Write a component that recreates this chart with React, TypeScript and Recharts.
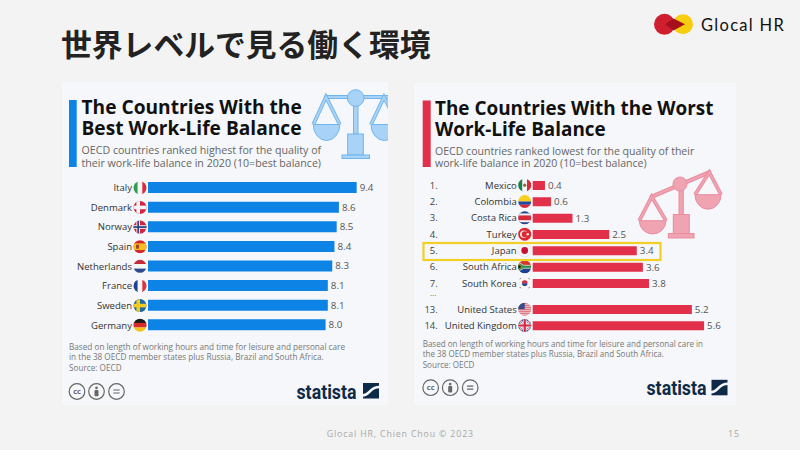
import { BarChart, Bar, XAxis, YAxis, LabelList } from "recharts";

const bestCountries = ["Italy", "Denmark", "Norway", "Spain", "Netherlands", "France", "Sweden", "Germany"];
const bestValues = [9.4, 8.6, 8.5, 8.4, 8.3, 8.1, 8.1, 8.0];

const worstCountries = ["Mexico", "Colombia", "Costa Rica", "Turkey", "Japan", "South Africa", "South Korea"];
const worstValues = [0.4, 0.6, 1.3, 2.5, 3.4, 3.6, 3.8];
const worstRanks = ["1.", "2.", "3.", "4.", "5.", "6.", "7."];

const lowerCountries = ["United States", "United Kingdom"];
const lowerValues = [5.2, 5.6];
const lowerRanks = ["13.", "14."];

const rankByCountry: Record<string, string> = {};
worstCountries.forEach((c, i) => (rankByCountry[c] = worstRanks[i]));
lowerCountries.forEach((c, i) => (rankByCountry[c] = lowerRanks[i]));

const toRows = (countries: string[], values: number[]) =>
  countries.map((country, i) => ({ country, value: values[i] }));

const UI_FONT = "'Open Sans', sans-serif";
const BLUE = "#0d83e6";
const RED = "#e2304a";

const FlagArt = ({ country }: { country: string }) => {
  const v = (a: string, b: string, c: string) => (
    <>
      <rect x={-7} y={-7} width={4.8} height={14} fill={a} />
      <rect x={-2.3} y={-7} width={4.6} height={14} fill={b} />
      <rect x={2.3} y={-7} width={4.8} height={14} fill={c} />
    </>
  );
  const h = (a: string, b: string, c: string) => (
    <>
      <rect x={-7} y={-7} width={14} height={4.8} fill={a} />
      <rect x={-7} y={-2.3} width={14} height={4.6} fill={b} />
      <rect x={-7} y={2.3} width={14} height={4.8} fill={c} />
    </>
  );
  const cross = (bg: string, c: string, inner?: string) => (
    <>
      <rect x={-7} y={-7} width={14} height={14} fill={bg} />
      <rect x={-3.6} y={-7} width={3.6} height={14} fill={c} />
      <rect x={-7} y={-1.8} width={14} height={3.6} fill={c} />
      {inner && <rect x={-2.7} y={-7} width={1.8} height={14} fill={inner} />}
      {inner && <rect x={-7} y={-0.9} width={14} height={1.8} fill={inner} />}
    </>
  );
  switch (country) {
    case "Italy":
      return v("#2e9e4f", "#f5f5f5", "#d92b3a");
    case "Denmark":
      return cross("#d32543", "#f5f5f5");
    case "Norway":
      return cross("#d32543", "#f5f5f5", "#2b4a86");
    case "Spain":
      return (
        <>
          <rect x={-7} y={-7} width={14} height={14} fill="#d8262e" />
          <rect x={-7} y={-3.3} width={14} height={6.6} fill="#f5bf1d" />
          <rect x={-4} y={-2} width={3} height={4} fill="#a8432a" />
        </>
      );
    case "Netherlands":
      return h("#c8283c", "#f5f5f5", "#2d4a8c");
    case "France":
      return v("#1f3f94", "#f5f5f5", "#e0323f");
    case "Sweden":
      return cross("#1f6aa5", "#f5c91e");
    case "Germany":
      return h("#1a1a1a", "#d92b2b", "#f5c21b");
    case "Mexico":
      return (
        <>
          {v("#1f7d4e", "#f5f5f5", "#d92b3a")}
          <circle r={1.6} fill="#8a6a3a" />
        </>
      );
    case "Colombia":
      return (
        <>
          <rect x={-7} y={-7} width={14} height={7} fill="#f7cf1d" />
          <rect x={-7} y={0} width={14} height={3.3} fill="#23489c" />
          <rect x={-7} y={3.3} width={14} height={3.7} fill="#d8283c" />
        </>
      );
    case "Costa Rica":
      return (
        <>
          <rect x={-7} y={-7} width={14} height={14} fill="#23438c" />
          <rect x={-7} y={-4.4} width={14} height={8.8} fill="#f5f5f5" />
          <rect x={-7} y={-2.4} width={14} height={4.8} fill="#d8283c" />
        </>
      );
    case "Turkey":
      return (
        <>
          <rect x={-7} y={-7} width={14} height={14} fill="#e0262f" />
          <circle cx={-1} r={3.6} fill="#f5f5f5" />
          <circle cx={0} r={2.9} fill="#e0262f" />
          <circle cx={3} r={1.2} fill="#f5f5f5" />
        </>
      );
    case "Japan":
      return (
        <>
          <rect x={-7} y={-7} width={14} height={14} fill="#f7f7f7" />
          <circle r={3.4} fill="#c8103a" />
        </>
      );
    case "South Africa":
      return (
        <>
          <rect x={-7} y={-7} width={14} height={7} fill="#d8352b" />
          <rect x={-7} y={0} width={14} height={7} fill="#1f3f94" />
          <path d="M-7-5L-1-1.5H7V1.5H-1L-7 5Z" fill="#2f8f46" stroke="#f5f5f5" strokeWidth={0.7} />
          <path d="M-7-3.2L-2.6 0-7 3.2Z" fill="#1a1a1a" stroke="#f5c21b" strokeWidth={0.6} />
        </>
      );
    case "South Korea":
      return (
        <>
          <rect x={-7} y={-7} width={14} height={14} fill="#f5f5f5" />
          <path d="M-2.8 0A2.8 2.8 0 0 1 2.8 0Z" fill="#d8283c" />
          <path d="M-2.8 0A2.8 2.8 0 0 0 2.8 0Z" fill="#23438c" />
          <path d="M-5.5-4L-3.8-5.5M-5.5 4L-3.8 5.5M5.5-4L3.8-5.5M5.5 4L3.8 5.5" stroke="#333" strokeWidth={1.3} />
        </>
      );
    case "United States":
      return (
        <>
          <rect x={-7} y={-7} width={14} height={14} fill="#f2f2f2" />
          {[-6.5, -4.5, -2.5, -0.5, 1.5, 3.5, 5.5].map((y) => (
            <rect key={y} x={-7} y={y} width={14} height={1} fill="#d8424f" />
          ))}
          <rect x={-7} y={-7} width={7} height={7} fill="#3a4c8c" />
        </>
      );
    case "United Kingdom":
      return (
        <>
          <rect x={-7} y={-7} width={14} height={14} fill="#23408c" />
          <path d="M-7-7L7 7M7-7L-7 7" stroke="#f5f5f5" strokeWidth={2.4} />
          <path d="M-7-7L7 7M7-7L-7 7" stroke="#d8283c" strokeWidth={0.9} />
          <path d="M0-7V7M-7 0H7" stroke="#f5f5f5" strokeWidth={3.8} />
          <path d="M0-7V7M-7 0H7" stroke="#d8283c" strokeWidth={2.2} />
        </>
      );
    default:
      return null;
  }
};

const Flag = ({ country, cx, cy }: { country: string; cx: number; cy: number }) => {
  const id = `flag-${country.replace(/\s/g, "")}`;
  return (
    <g transform={`translate(${cx},${cy})`}>
      <clipPath id={id}>
        <circle r={6.5} />
      </clipPath>
      <g clipPath={`url(#${id})`}>
        <FlagArt country={country} />
      </g>
      {country === "Japan" && <circle r={6.5} fill="none" stroke="#ddd" strokeWidth={0.6} />}
    </g>
  );
};

const CountryTick = (props: any) => {
  const { x, y, payload, showRank } = props;
  const rank = rankByCountry[payload.value];
  return (
    <g>
      {showRank && (
        <text x={x - 95} y={y} dy={3.4} textAnchor="end" fontSize={9.5} fill="#444" fontFamily={UI_FONT}>
          {rank}
        </text>
      )}
      <text x={x - 16} y={y} dy={3.4} textAnchor="end" fontSize={9.55} fill="#333" fontFamily={UI_FONT}>
        {payload.value}
      </text>
      <Flag country={payload.value} cx={x - 8} cy={y} />
    </g>
  );
};

type ChartProps = {
  rows: { country: string; value: number }[];
  left: number;
  top: number;
  width: number;
  height: number;
  axisWidth: number;
  max: number;
  barSize: number;
  color: string;
  showRank?: boolean;
};

const BalanceChart = ({ rows, left, top, width, height, axisWidth, max, barSize, color, showRank }: ChartProps) => (
  <div style={{ position: "absolute", left, top }}>
    <BarChart
      width={width}
      height={height}
      data={rows}
      layout="vertical"
      margin={{ top: 0, right: 0, bottom: 0, left: 0 }}
    >
      <XAxis type="number" domain={[0, max]} hide />
      <YAxis
        type="category"
        dataKey="country"
        width={axisWidth}
        axisLine={false}
        tickLine={false}
        tickSize={0}
        tickMargin={0}
        interval={0}
        tick={(p: any) => <CountryTick {...p} showRank={showRank} />}
      />
      <Bar dataKey="value" fill={color} barSize={barSize} isAnimationActive={false}>
        <LabelList
          dataKey="value"
          position="right"
          offset={3}
          fontSize={9.8}
          fill="#555"
          fontFamily={UI_FONT}
          formatter={(v: any) => Number(v).toFixed(1)}
        />
      </Bar>
    </BarChart>
  </div>
);

const ScaleIcon = (props: {
  fill: string;
  line: string;
  beam: [number, number, number, number];
  hub: [number, number, number];
  stem: [number, number, number, number];
  column: [number, number, number, number];
  base: [number, number, number, number];
  pans: [number, number, number, number, number, number][];
}) => {
  const { fill, line, beam, hub, stem, column, base, pans } = props;
  const box = (r: number[]) => <rect x={r[0]} y={r[1]} width={r[2] - r[0]} height={r[3] - r[1]} fill={fill} stroke={line} strokeWidth={1} />;
  return (
    <g>
      <line x1={beam[0]} y1={beam[1]} x2={beam[2]} y2={beam[3]} stroke={line} strokeWidth={4.2} strokeLinecap="round" />
      <line x1={beam[0]} y1={beam[1]} x2={beam[2]} y2={beam[3]} stroke={fill} strokeWidth={2.2} strokeLinecap="round" />
      {pans.map(([ax, ay, l, r, by, depth], i) => (
        <g key={i}>
          <path d={`M${l} ${by}L${ax} ${ay}L${r} ${by}`} fill="none" stroke={line} strokeWidth={3.8} />
          <path d={`M${l} ${by}L${ax} ${ay}L${r} ${by}`} fill="none" stroke={fill} strokeWidth={1.9} />
          <path d={`M${l} ${by}H${r}A${(r - l) / 2} ${depth} 0 0 1 ${l} ${by}Z`} fill={fill} stroke={line} strokeWidth={1} />
        </g>
      ))}
      {box(stem)}
      {box(column)}
      {box(base)}
      <circle cx={hub[0]} cy={hub[1]} r={hub[2]} fill={fill} stroke={line} strokeWidth={1} />
    </g>
  );
};

const CcIcons = ({ x, y }: { x: number; y: number }) => (
  <g stroke="#666" fill="none" strokeWidth={1.2}>
    <circle cx={x} cy={y} r={7.8} />
    <text x={x} y={y + 2.6} fontSize={7.5} fontWeight={700} textAnchor="middle" fill="#666" stroke="none" fontFamily={UI_FONT}>
      cc
    </text>
    <circle cx={x + 19.5} cy={y} r={7.8} />
    <circle cx={x + 19.5} cy={y - 3.6} r={1.3} fill="#666" stroke="none" />
    <rect x={x + 17.5} y={y - 1.6} width={4} height={6.4} rx={1} fill="#666" stroke="none" />
    <circle cx={x + 39.5} cy={y} r={7.8} />
    <path d={`M${x + 36.3} ${y - 1.5}H${x + 42.7}M${x + 36.3} ${y + 1.5}H${x + 42.7}`} />
  </g>
);

const StatistaLogo = ({ x, y, iconX }: { x: number; y: number; iconX: number }) => (
  <g>
    <text x={x} y={y} fontSize={20} fontWeight={700} fill="#0f2a47" fontFamily="'Liberation Sans Narrow', 'Roboto', sans-serif" textLength={60} lengthAdjust="spacingAndGlyphs">
      statista
    </text>
    <rect x={iconX} y={y - 15.5} width={16} height={15.5} fill="#0f2a47" />
    <path d={`M${iconX - 0.5} ${y - 3}C${iconX + 7} ${y - 3} ${iconX + 6} ${y - 11.5} ${iconX + 16.5} ${y - 11.5}`} fill="none" stroke="#f5f7fa" strokeWidth={2.6} />
  </g>
);

export default function App() {
  return (
    <div style={{ position: "absolute", left: 0, top: 0, width: 800, height: 450, background: "#f3f3f3", overflow: "hidden" }}>
      <svg width={800} height={450} style={{ position: "absolute", left: 0, top: 0 }}>
        <text x={61} y={56} fontSize={30.8} fontWeight={700} fill="#222" fontFamily="'Noto Sans CJK JP', sans-serif">
          世界レベルで見る働く環境
        </text>

        <circle cx={664.5} cy={24.3} r={10.5} fill="#cf1f2e" />
        <circle cx={683} cy={24.3} r={10} fill="#f6cd0f" />
        <path d="M665 24.3L673.5 18.5L685 24.3L673.5 30.5Z" fill="#a5101c" />
        <text x={701} y={31} fontSize={16.5} fill="#111" letterSpacing={1.3} fontFamily="Lato, sans-serif">
          Glocal HR
        </text>

        <rect x={62} y={82} width={326} height={323} fill="#f5f7fa" />
        <rect x={414} y={83} width={322} height={322} fill="#f5f7fa" />

        <rect x={69} y={100} width={7.7} height={67} fill={BLUE} />
        <g fontFamily={UI_FONT} fontWeight={700} fontSize={19.15} fill="#111">
          <text x={81.5} y={113.5}>The Countries With the</text>
          <text x={81.5} y={135}>Best Work-Life Balance</text>
        </g>
        <g fontFamily={UI_FONT} fontSize={10.65} fill="#666">
          <text x={81.5} y={154}>OECD countries ranked highest for the quality of</text>
          <text x={81.5} y={166.7}>their work-life balance in 2020 (10=best balance)</text>
        </g>
        <clipPath id="blue-scale-clip">
          <rect x={300} y={82} width={88} height={90} />
        </clipPath>
        <g clipPath="url(#blue-scale-clip)">
          <ScaleIcon
            fill="#a9d3f6"
            line="#6fb5ef"
            beam={[326, 97, 392, 97]}
            hub={[355.7, 98, 8.3]}
            stem={[353.5, 104, 358, 134]}
            column={[347.7, 134, 363.3, 155]}
            base={[342, 155, 369.5, 158.5]}
            pans={[
              [326, 97, 313.3, 339.8, 124.5, 16],
              [384, 97, 371, 398, 124.5, 16],
            ]}
          />
        </g>
        <g fontFamily={UI_FONT} fontSize={8.2} fill="#777">
          <text x={69} y={350}>Based on length of working hours and time for leisure and personal care</text>
          <text x={69} y={360}>in the 38 OECD member states plus Russia, Brazil and South Africa.</text>
          <text x={69} y={371}>Source: OECD</text>
        </g>
        <CcIcons x={77} y={391.5} />
        <StatistaLogo x={296.5} y={398.5} iconX={363} />

        <rect x={422.7} y={100.5} width={8} height={66.5} fill={RED} />
        <g fontFamily={UI_FONT} fontWeight={700} fontSize={18.9} fill="#111">
          <text x={435} y={115}>The Countries With the Worst</text>
          <text x={435} y={136}>Work-Life Balance</text>
        </g>
        <g fontFamily={UI_FONT} fontSize={10.55} fill="#666">
          <text x={435} y={155}>OECD countries ranked lowest for the quality of their</text>
          <text x={435} y={167.3}>work-life balance in 2020 (10=best balance)</text>
        </g>
        <ScaleIcon
          fill="#f0a3b1"
          line="#e98da0"
          beam={[651.7, 196.7, 709.3, 172.3]}
          hub={[680, 184, 7]}
          stem={[679, 190, 683.3, 214.5]}
          column={[673.3, 214.5, 689.3, 233.5]}
          base={[668.3, 233.5, 694, 238]}
          pans={[
            [651.7, 196.7, 639.3, 666, 220.7, 13.3],
            [709.3, 172.3, 695, 721, 194.7, 14.5],
          ]}
        />
        <text x={430} y={296} fontSize={8} fill="#666" fontFamily={UI_FONT}>...</text>
        <g fontFamily={UI_FONT} fontSize={8.05} fill="#777">
          <text x={422.7} y={346.7}>Based on length of working hours and time for leisure and personal care in</text>
          <text x={422.7} y={356.7}>the 38 OECD member states plus Russia, Brazil and South Africa.</text>
          <text x={422.7} y={367.7}>Source: OECD</text>
        </g>
        <CcIcons x={430.7} y={387.7} />
        <StatistaLogo x={646.5} y={395.3} iconX={711.5} />

        <text x={326.7} y={437} fontSize={8.8} fill="#a8a8a8" letterSpacing={0.85} fontFamily={UI_FONT}>
          Glocal HR, Chien Chou © 2023
        </text>
        <text x={728} y={437} fontSize={8.8} fill="#a8a8a8" letterSpacing={0.85} fontFamily={UI_FONT}>
          15
        </text>
      </svg>

      <BalanceChart
        rows={toRows(bestCountries, bestValues)}
        left={62}
        top={177.5}
        width={330.2}
        height={157}
        axisWidth={86}
        max={11}
        barSize={11}
        color={BLUE}
      />
      <BalanceChart
        rows={toRows(worstCountries, worstValues)}
        left={414}
        top={176.8}
        width={333}
        height={114.3}
        axisWidth={118.7}
        max={7}
        barSize={9}
        color={RED}
        showRank
      />
      <BalanceChart
        rows={toRows(lowerCountries, lowerValues)}
        left={414}
        top={300.5}
        width={333}
        height={32.7}
        axisWidth={118.7}
        max={7}
        barSize={9}
        color={RED}
        showRank
      />

      <svg width={800} height={450} style={{ position: "absolute", left: 0, top: 0, pointerEvents: "none" }}>
        <rect x={423.5} y={243} width={237} height={17} fill="none" stroke="#f2cf27" strokeWidth={2.2} />
      </svg>
    </div>
  );
}
